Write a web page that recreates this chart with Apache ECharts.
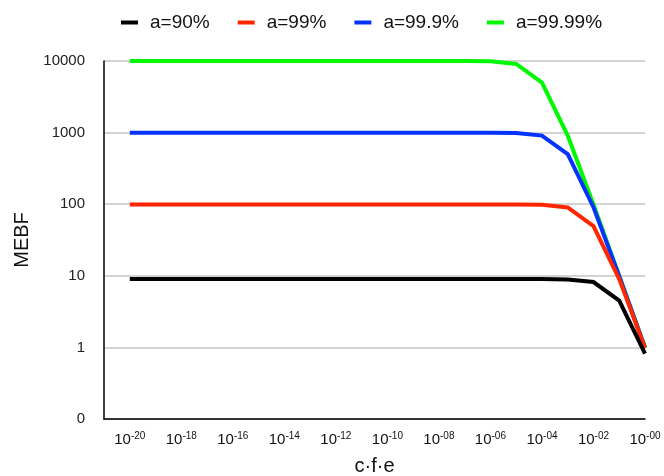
<!DOCTYPE html>
<html>
<head>
<meta charset="utf-8">
<script src="https://cdn.jsdelivr.net/npm/echarts@6/dist/echarts.min.js"></script>
<style>
  html, body { margin: 0; padding: 0; background: #fff; }
  #chart { width: 664px; height: 476px; }
</style>
</head>
<body>
<div id="chart"></div>
<script>
// c·f·e as powers of ten (exponents), one point per decade
const cfeExp = [-20, -19, -18, -17, -16, -15, -14, -13, -12, -11, -10,
                -9, -8, -7, -6, -5, -4, -3, -2, -1, 0];

// MEBF for each availability level a
const mebf90 = [9, 9, 9, 9, 9, 9, 9, 9, 9, 9, 9,
                9, 9, 9, 9, 9, 8.99, 8.91, 8.18, 4.5, 0.82];
const mebf99 = [99, 99, 99, 99, 99, 99, 99, 99, 99, 99, 99,
                99, 99, 99, 98.99, 98.9, 98.0, 90.0, 49.5, 9.0, 0.98];
const mebf999 = [999, 999, 999, 999, 999, 999, 999, 999, 999, 999, 999,
                 999, 998.9, 998.9, 998, 989, 908, 499.5, 90.8, 9.89, 0.99];
const mebf9999 = [9999, 9999, 9999, 9999, 9999, 9999, 9999, 9999, 9999, 9999, 9998,
                  9998, 9998, 9989, 9900, 9090, 5000, 909, 99, 9.99, 1.0];

const seriesNames = ['a=90%', 'a=99%', 'a=99.9%', 'a=99.99%'];
const seriesColors = ['#000000', '#ff2600', '#0433ff', '#00f900'];
const seriesValues = [mebf90, mebf99, mebf999, mebf9999];

// x tick exponents shown on the axis and their printed form
const xTickExp = [-20, -18, -16, -14, -12, -10, -8, -6, -4, -2, 0];
const xTickText = ['-20', '-18', '-16', '-14', '-12', '-10', '-08', '-06', '-04', '-02', '-00'];

// y ticks: decades, with the bottom row labelled 0
const yTickPos = [-1, 0, 1, 2, 3, 4];
const yTickText = ['0', '1', '10', '100', '1000', '10000'];

const FONT = '"Liberation Sans", Arial, Helvetica, sans-serif';

const chart = echarts.init(document.getElementById('chart'), null, { renderer: 'canvas' });

// plotted in log10 space so the decades are evenly spaced
const series = seriesValues.map((vals, i) => ({
  name: seriesNames[i],
  type: 'line',
  data: cfeExp.map((e, j) => [e, Math.log10(vals[j])]),
  showSymbol: false,
  symbol: 'none',
  lineStyle: { color: seriesColors[i], width: 4, join: 'miter' },
  itemStyle: { color: seriesColors[i] },
  z: 10 - i,
  animation: false
})).reverse();

chart.setOption({
  animation: false,
  backgroundColor: '#ffffff',
  textStyle: { fontFamily: FONT },
  legend: {
    data: seriesNames,
    top: 8,
    left: 116,
    icon: 'rect',
    itemWidth: 17,
    itemHeight: 4,
    itemGap: 28,
    textStyle: { fontFamily: FONT, fontSize: 19, color: '#111', padding: [0, 0, 0, 7] }
  },
  grid: { left: 104, right: 19, top: 61, bottom: 57, containLabel: false, outerBoundsMode: 'none' },
  xAxis: {
    type: 'value',
    min: -21,
    max: 0,
    interval: 1,
    name: 'c·f·e',
    nameLocation: 'middle',
    nameGap: 37,
    nameTextStyle: { fontFamily: FONT, fontSize: 20, color: '#111' },
    axisLine: { show: true, onZero: false, lineStyle: { color: '#000', width: 1.5 } },
    axisTick: { show: false },
    splitLine: { show: false },
    axisLabel: {
      margin: 12,
      showMinLabel: true,
      showMaxLabel: true,
      formatter: function (v) {
        const k = xTickExp.indexOf(v);
        if (k < 0) return '';
        return '{b|10}{s|' + xTickText[k] + '}';
      },
      rich: {
        b: { fontFamily: FONT, fontSize: 15, color: '#111', lineHeight: 17 },
        s: { fontFamily: FONT, fontSize: 10, color: '#111', verticalAlign: 'top', lineHeight: 17 }
      }
    }
  },
  yAxis: {
    type: 'value',
    min: -1,
    max: 4,
    interval: 1,
    name: 'MEBF',
    nameLocation: 'middle',
    nameGap: 72,
    nameTextStyle: { fontFamily: FONT, fontSize: 20, color: '#111' },
    axisLine: { show: true, onZero: false, lineStyle: { color: '#000', width: 1.5 } },
    axisTick: { show: false },
    axisLabel: {
      margin: 19,
      fontFamily: FONT,
      fontSize: 15,
      color: '#222',
      formatter: function (v) {
        const k = yTickPos.indexOf(v);
        return k < 0 ? '' : yTickText[k];
      }
    },
    splitLine: { show: true, lineStyle: { color: '#c4c4c4', width: 1.5 } }
  },
  series: series
});
</script>
</body>
</html>
